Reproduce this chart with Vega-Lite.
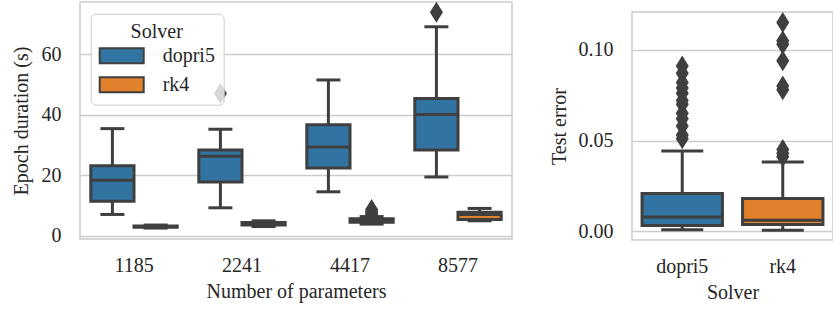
{
  "$schema": "https://vega.github.io/schema/vega-lite/v6.json",
  "padding": {"left": 10, "top": 1, "right": 0, "bottom": 0},
  "background": "white",
  "spacing": 35,
  "config": {
    "font": "Liberation Serif",
    "view": {"stroke": "#cccccc", "strokeWidth": 1.5},
    "axis": {
      "labelFont": "Liberation Serif", "titleFont": "Liberation Serif",
      "labelFontSize": 20, "titleFontSize": 20, "titleFontWeight": "normal",
      "labelColor": "#262626", "titleColor": "#262626",
      "domain": false, "ticks": false, "gridColor": "#cccccc", "gridWidth": 1.5
    }
  },
  "datasets": {
    "epochBoxes": [
      {"params": "1185", "solver": "dopri5", "lower": 7.0, "q1": 11.4, "median": 18.3, "q3": 23.1, "upper": 35.4},
      {"params": "2241", "solver": "dopri5", "lower": 9.2, "q1": 17.7, "median": 26.3, "q3": 28.3, "upper": 35.2},
      {"params": "4417", "solver": "dopri5", "lower": 14.5, "q1": 22.4, "median": 29.3, "q3": 36.7, "upper": 51.5},
      {"params": "8577", "solver": "dopri5", "lower": 19.4, "q1": 28.3, "median": 40.1, "q3": 45.4, "upper": 69.1},
      {"params": "1185", "solver": "rk4", "lower": 2.5, "q1": 2.8, "median": 3.0, "q3": 3.2, "upper": 3.5},
      {"params": "2241", "solver": "rk4", "lower": 3.0, "q1": 3.5, "median": 3.9, "q3": 4.3, "upper": 4.9},
      {"params": "4417", "solver": "rk4", "lower": 3.8, "q1": 4.4, "median": 5.0, "q3": 5.6, "upper": 6.3},
      {"params": "8577", "solver": "rk4", "lower": 4.9, "q1": 5.3, "median": 7.0, "q3": 7.7, "upper": 9.0}
    ],
    "epochOutliers": [
      {"params": "2241", "solver": "dopri5", "value": 47.0},
      {"params": "8577", "solver": "dopri5", "value": 73.9},
      {"params": "4417", "solver": "rk4", "value": 7.0},
      {"params": "4417", "solver": "rk4", "value": 7.5},
      {"params": "4417", "solver": "rk4", "value": 8.0},
      {"params": "4417", "solver": "rk4", "value": 8.6}
    ],
    "errorBoxes": [
      {"solver": "dopri5", "lower": 0.0009, "q1": 0.0032, "median": 0.0079, "q3": 0.0208, "upper": 0.0442},
      {"solver": "rk4", "lower": 0.0006, "q1": 0.0037, "median": 0.0061, "q3": 0.0181, "upper": 0.0382}
    ],
    "errorOutliers": [
      {"solver": "dopri5", "value": 0.051}, {"solver": "dopri5", "value": 0.053},
      {"solver": "dopri5", "value": 0.058}, {"solver": "dopri5", "value": 0.062},
      {"solver": "dopri5", "value": 0.065}, {"solver": "dopri5", "value": 0.070},
      {"solver": "dopri5", "value": 0.072}, {"solver": "dopri5", "value": 0.076},
      {"solver": "dopri5", "value": 0.079}, {"solver": "dopri5", "value": 0.082},
      {"solver": "dopri5", "value": 0.087}, {"solver": "dopri5", "value": 0.091},
      {"solver": "rk4", "value": 0.041}, {"solver": "rk4", "value": 0.043},
      {"solver": "rk4", "value": 0.045}, {"solver": "rk4", "value": 0.078},
      {"solver": "rk4", "value": 0.080}, {"solver": "rk4", "value": 0.094},
      {"solver": "rk4", "value": 0.103}, {"solver": "rk4", "value": 0.105},
      {"solver": "rk4", "value": 0.115}
    ]
  },
  "resolve": {"legend": {"color": "independent"}},
  "hconcat": [
    {
      "width": 432,
      "height": 237,
      "encoding": {
        "x": {"field": "params", "type": "nominal", "sort": ["1185", "2241", "4417", "8577"],
              "scale": {"paddingInner": 0, "paddingOuter": 0},
              "axis": {"labelAngle": 0, "title": "Number of parameters", "labelPadding": 16, "titlePadding": 6}},
        "xOffset": {"field": "solver", "type": "nominal", "sort": ["dopri5", "rk4"],
                    "scale": {"paddingInner": 0, "paddingOuter": 0.25}}
      },
      "layer": [
        {
          "data": {"name": "epochBoxes"},
          "mark": {"type": "rule", "color": "#3f3f3f", "strokeWidth": 3},
          "encoding": {
            "y": {"field": "lower", "type": "quantitative", "title": "Epoch duration (s)",
                  "scale": {"domain": [-1.12, 77.3], "nice": false, "zero": false},
                  "axis": {"values": [0, 20, 40, 60], "format": "d", "labelPadding": 19, "titlePadding": 10}},
            "y2": {"field": "upper"}
          }
        },
        {
          "data": {"name": "epochBoxes"},
          "mark": {"type": "tick", "color": "#3f3f3f", "thickness": 3, "size": 24, "opacity": 1},
          "encoding": {"y": {"field": "lower", "type": "quantitative", "title": "Epoch duration (s)"}}
        },
        {
          "data": {"name": "epochBoxes"},
          "mark": {"type": "tick", "color": "#3f3f3f", "thickness": 3, "size": 24, "opacity": 1},
          "encoding": {"y": {"field": "upper", "type": "quantitative", "title": "Epoch duration (s)"}}
        },
        {
          "data": {"name": "epochBoxes"},
          "mark": {"type": "bar", "stroke": "#3f3f3f", "strokeWidth": 3, "width": {"band": 1}, "opacity": 1},
          "encoding": {
            "y": {"field": "q1", "type": "quantitative", "title": "Epoch duration (s)"},
            "y2": {"field": "q3"},
            "color": {"field": "solver", "type": "nominal",
                      "scale": {"domain": ["dopri5", "rk4"], "range": ["#3274a1", "#e1812c"]},
                      "legend": {
                        "orient": "none", "legendX": 10.7, "legendY": 11.7,
                        "title": "Solver", "titleFont": "Liberation Serif", "titleFontSize": 20,
                        "titleFontWeight": "normal", "titleColor": "#262626",
                        "titleAnchor": "middle", "titleAlign": "center", "titlePadding": 2,
                        "labelFont": "Liberation Serif", "labelFontSize": 20, "labelColor": "#262626",
                        "labelExpr": "datum.label + '\u00a0\u00a0'",
                        "labelOffset": 29, "rowPadding": 5, "symbolOffset": 11,
                        "symbolType": "M-2,-0.68H2V0.68H-2Z", "symbolSize": 484,
                        "symbolStrokeColor": "#3f3f3f", "symbolStrokeWidth": 2, "symbolOpacity": 1,
                        "fillColor": "rgba(255,255,255,0.8)", "strokeColor": "#cccccc", "cornerRadius": 5,
                        "padding": 8
                      }}
          }
        },
        {
          "data": {"name": "epochBoxes"},
          "mark": {"type": "tick", "color": "#3f3f3f", "thickness": 3, "size": 43.2, "opacity": 1},
          "encoding": {"y": {"field": "median", "type": "quantitative", "title": "Epoch duration (s)"}}
        },
        {
          "data": {"name": "epochOutliers"},
          "mark": {"type": "point", "shape": "M0,-1L0.62,0L0,1L-0.62,0Z", "filled": true,
                   "color": "#3f3f3f", "size": 441, "opacity": 1},
          "encoding": {"y": {"field": "value", "type": "quantitative", "title": "Epoch duration (s)"}}
        }
      ]
    },
    {
      "spacing": 8,
      "vconcat": [
        {
          "width": 201,
          "height": 1,
          "view": {"stroke": null},
          "data": {"values": [{}]},
          "mark": {"type": "point", "opacity": 0, "size": 0},
          "encoding": {}
        },
        {
          "width": 201,
          "height": 228,
          "encoding": {
            "x": {"field": "solver", "type": "nominal", "sort": ["dopri5", "rk4"],
                  "scale": {"paddingInner": 0, "paddingOuter": 0},
                  "axis": {"labelAngle": 0, "title": "Solver", "labelPadding": 16, "titlePadding": 6}}
          },
          "layer": [
            {
              "data": {"name": "errorBoxes"},
              "mark": {"type": "rule", "color": "#3f3f3f", "strokeWidth": 3},
              "encoding": {
                "y": {"field": "lower", "type": "quantitative", "title": "Test error",
                      "scale": {"domain": [-0.0048, 0.1208], "nice": false, "zero": false},
                      "axis": {"values": [0, 0.05, 0.1], "format": ".2f", "labelPadding": 19, "titlePadding": 9}},
                "y2": {"field": "upper"}
              }
            },
            {
              "data": {"name": "errorBoxes"},
              "mark": {"type": "tick", "color": "#3f3f3f", "thickness": 3, "size": 42, "opacity": 1},
              "encoding": {"y": {"field": "lower", "type": "quantitative", "title": "Test error"}}
            },
            {
              "data": {"name": "errorBoxes"},
              "mark": {"type": "tick", "color": "#3f3f3f", "thickness": 3, "size": 42, "opacity": 1},
              "encoding": {"y": {"field": "upper", "type": "quantitative", "title": "Test error"}}
            },
            {
              "data": {"name": "errorBoxes"},
              "mark": {"type": "bar", "stroke": "#3f3f3f", "strokeWidth": 3, "width": {"band": 0.8}, "opacity": 1},
              "encoding": {
                "y": {"field": "q1", "type": "quantitative", "title": "Test error"},
                "y2": {"field": "q3"},
                "color": {"field": "solver", "type": "nominal", "legend": null}
              }
            },
            {
              "data": {"name": "errorBoxes"},
              "mark": {"type": "tick", "color": "#3f3f3f", "thickness": 3, "size": 80.4, "opacity": 1},
              "encoding": {"y": {"field": "median", "type": "quantitative", "title": "Test error"}}
            },
            {
              "data": {"name": "errorOutliers"},
              "mark": {"type": "point", "shape": "M0,-1L0.62,0L0,1L-0.62,0Z", "filled": true,
                       "color": "#3f3f3f", "size": 441, "opacity": 1},
              "encoding": {"y": {"field": "value", "type": "quantitative", "title": "Test error"}}
            }
          ]
        }
      ]
    }
  ]
}
